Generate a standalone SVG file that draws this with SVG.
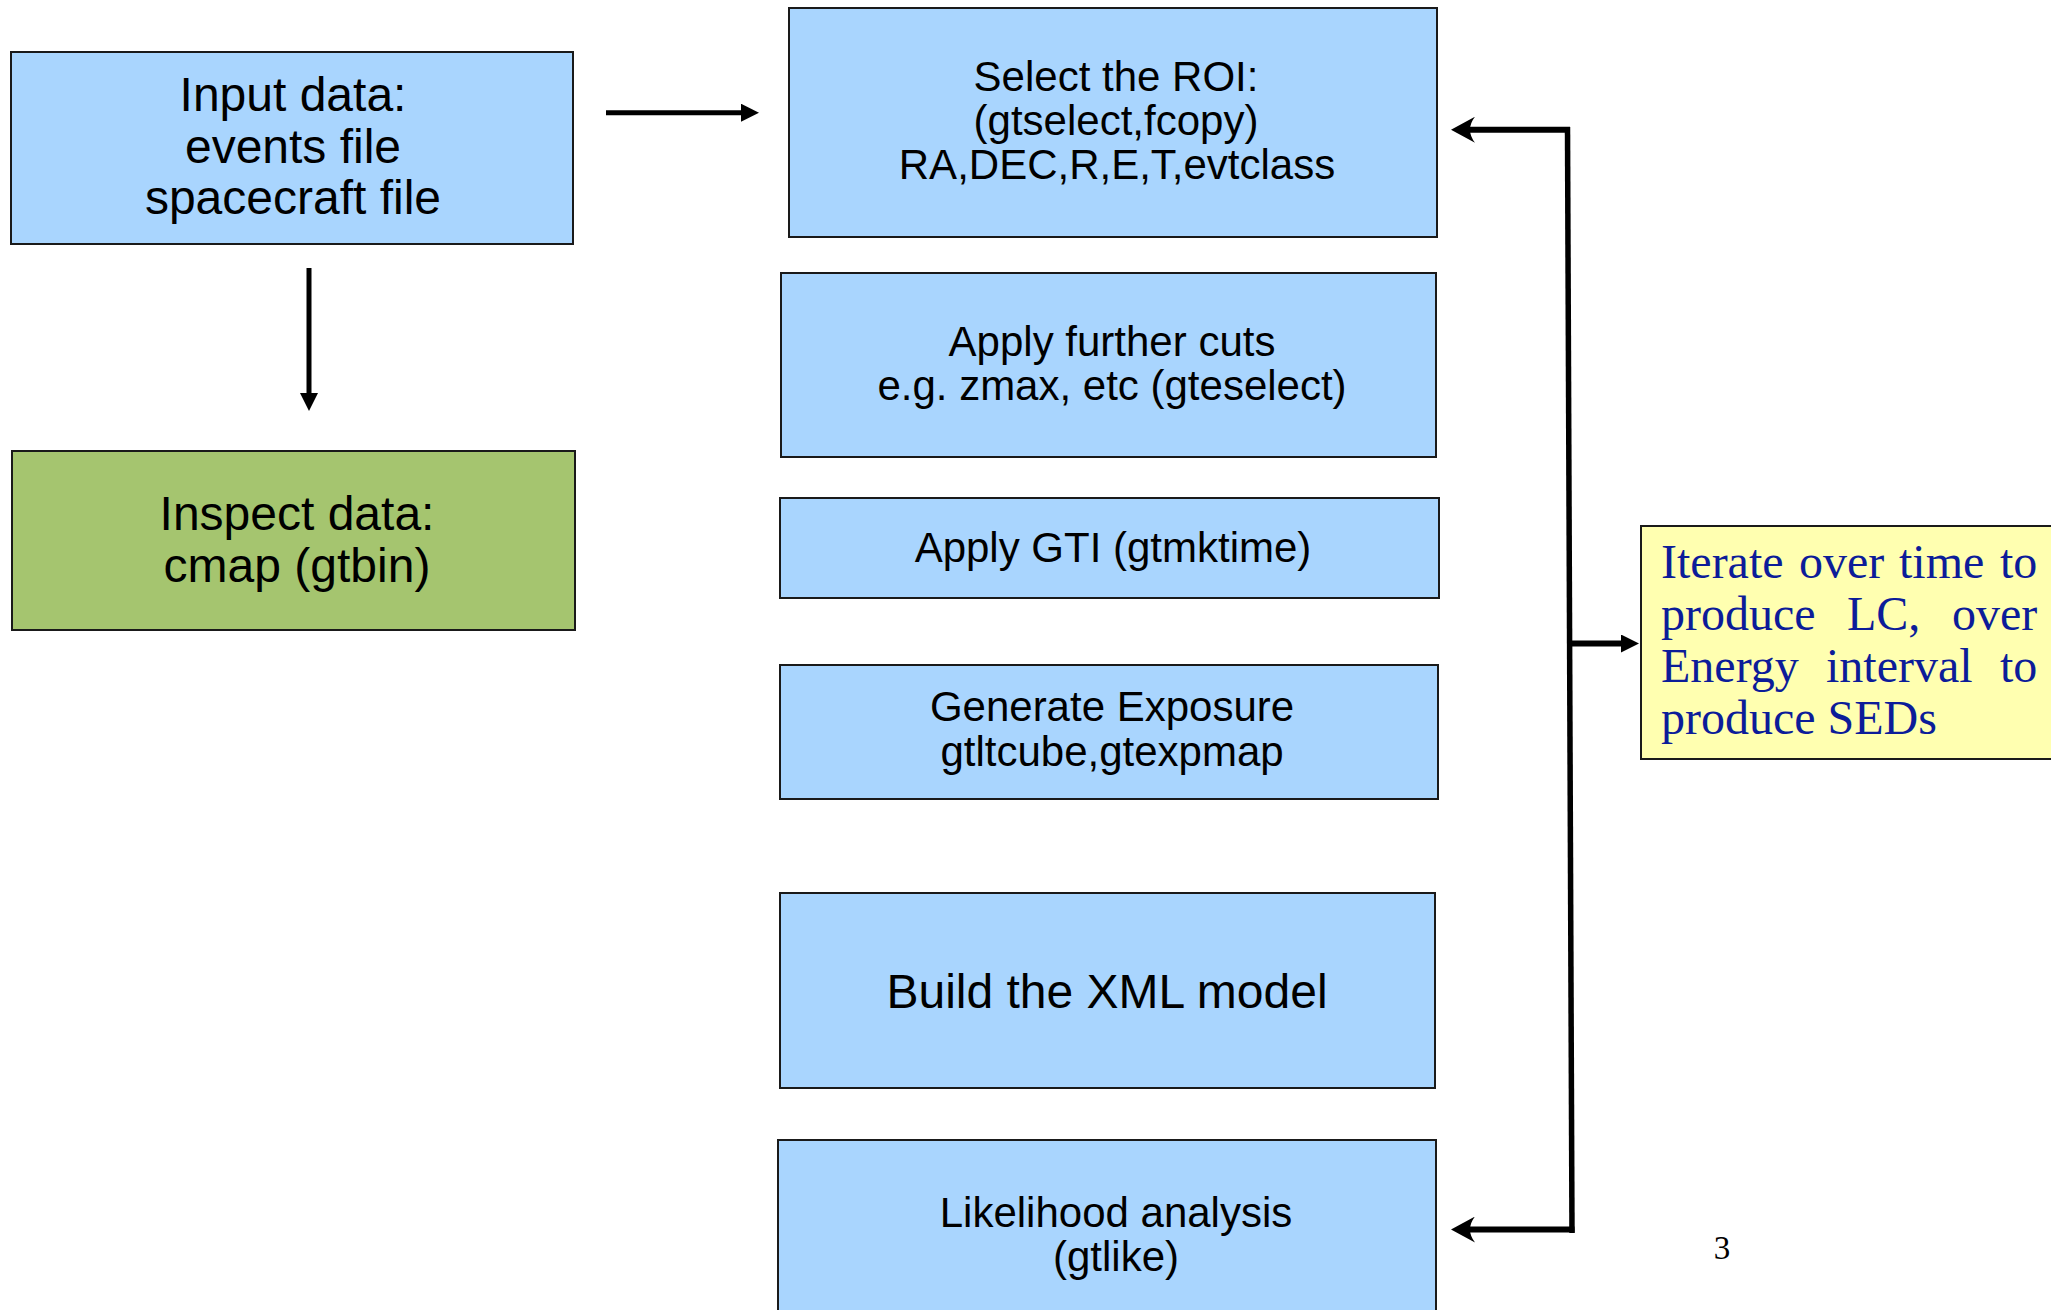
<svg xmlns="http://www.w3.org/2000/svg" width="2051" height="1310" viewBox="0 0 2051 1310">
<defs>
<style>
.box{stroke:#1a1a1a;stroke-width:2}
.blue{fill:#a9d5fe}
.green{fill:#a5c56f}
.yellow{fill:#ffffb0}
.t{font-family:"Liberation Sans",Arial,sans-serif;fill:#000;text-anchor:middle}
.t42{font-size:42px}
.t48{font-size:48px}
.ser{font-family:"Liberation Serif","Times New Roman",serif;font-size:48px;fill:#0c1c99}
.conn{stroke:#000;fill:none}
</style>
<marker id="tri" markerUnits="userSpaceOnUse" markerWidth="18" markerHeight="18" refX="0" refY="9" orient="auto" viewBox="0 0 18 18">
<path d="M0,0 L18,9 L0,18 Z" fill="#000"/>
</marker>
<marker id="stealth" markerUnits="userSpaceOnUse" markerWidth="24" markerHeight="26" refX="6" refY="13" orient="auto" viewBox="0 0 24 26">
<path d="M24,13 L0,0 Q10,13 0,26 Z" fill="#000"/>
</marker>
</defs>
<rect width="2051" height="1310" fill="#fff"/>

<g id="input">
<rect class="box blue" x="11" y="52" width="562" height="192"/>
<text class="t t48" x="293" y="111">Input data:</text>
<text class="t t48" x="293" y="163">events file</text>
<text class="t t48" x="293" y="214">spacecraft file</text>
</g>

<g id="inspect">
<rect class="box green" x="12" y="451" width="563" height="179"/>
<text class="t t48" x="297" y="530">Inspect data:</text>
<text class="t t48" x="297" y="582">cmap (gtbin)</text>
</g>

<g id="roi">
<rect class="box blue" x="789" y="8" width="648" height="229"/>
<text class="t t42" x="1116" y="91">Select the ROI:</text>
<text class="t t42" x="1116" y="135">(gtselect,fcopy)</text>
<text class="t t42" x="1117" y="179">RA,DEC,R,E,T,evtclass</text>
</g>

<g id="cuts">
<rect class="box blue" x="781" y="273" width="655" height="184"/>
<text class="t t42" x="1112" y="356">Apply further cuts</text>
<text class="t t42" x="1112" y="400">e.g. zmax, etc (gteselect)</text>
</g>

<g id="gti">
<rect class="box blue" x="780" y="498" width="659" height="100"/>
<text class="t t42" x="1113" y="562">Apply GTI (gtmktime)</text>
</g>

<g id="exposure">
<rect class="box blue" x="780" y="665" width="658" height="134"/>
<text class="t t42" x="1112" y="721">Generate Exposure</text>
<text class="t t42" x="1112" y="766">gtltcube,gtexpmap</text>
</g>

<g id="xml">
<rect class="box blue" x="780" y="893" width="655" height="195"/>
<text class="t t48" x="1107" y="1008">Build the XML model</text>
</g>

<g id="likelihood">
<rect class="box blue" x="778" y="1140" width="658" height="190"/>
<text class="t t42" x="1116" y="1227">Likelihood analysis</text>
<text class="t t42" x="1116" y="1271">(gtlike)</text>
</g>

<g id="iterate">
<rect class="box yellow" x="1641" y="526" width="430" height="233"/>
<text class="ser" y="578"><tspan x="1661">Iterate</tspan><tspan x="1799">over</tspan><tspan x="1899">time</tspan><tspan x="2000">to</tspan></text>
<text class="ser" y="630"><tspan x="1661">produce</tspan><tspan x="1847">LC,</tspan><tspan x="1952">over</tspan></text>
<text class="ser" y="682"><tspan x="1661">Energy</tspan><tspan x="1826">interval</tspan><tspan x="2000">to</tspan></text>
<text class="ser" y="734"><tspan x="1661">produce SEDs</tspan></text>
</g>

<g id="page-number">
<text x="1722" y="1259" style="font-family:'Liberation Serif','Times New Roman',serif;font-size:33px;fill:#000;text-anchor:middle">3</text>
</g>

<g id="connectors">
<line class="conn" x1="606" y1="112.7" x2="741" y2="112.7" stroke-width="5" marker-end="url(#tri)"/>
<line class="conn" x1="309" y1="268" x2="309" y2="393" stroke-width="5" marker-end="url(#tri)"/>
<line class="conn" x1="1567.5" y1="127" x2="1572" y2="1233" stroke-width="5.5"/>
<line class="conn" x1="1570" y1="129.7" x2="1469" y2="129.7" stroke-width="6" marker-end="url(#stealth)"/>
<line class="conn" x1="1574.5" y1="1229.5" x2="1469" y2="1229.5" stroke-width="6" marker-end="url(#stealth)"/>
<line class="conn" x1="1570" y1="643.5" x2="1621" y2="643.5" stroke-width="6" marker-end="url(#tri)"/>
</g>
</svg>
